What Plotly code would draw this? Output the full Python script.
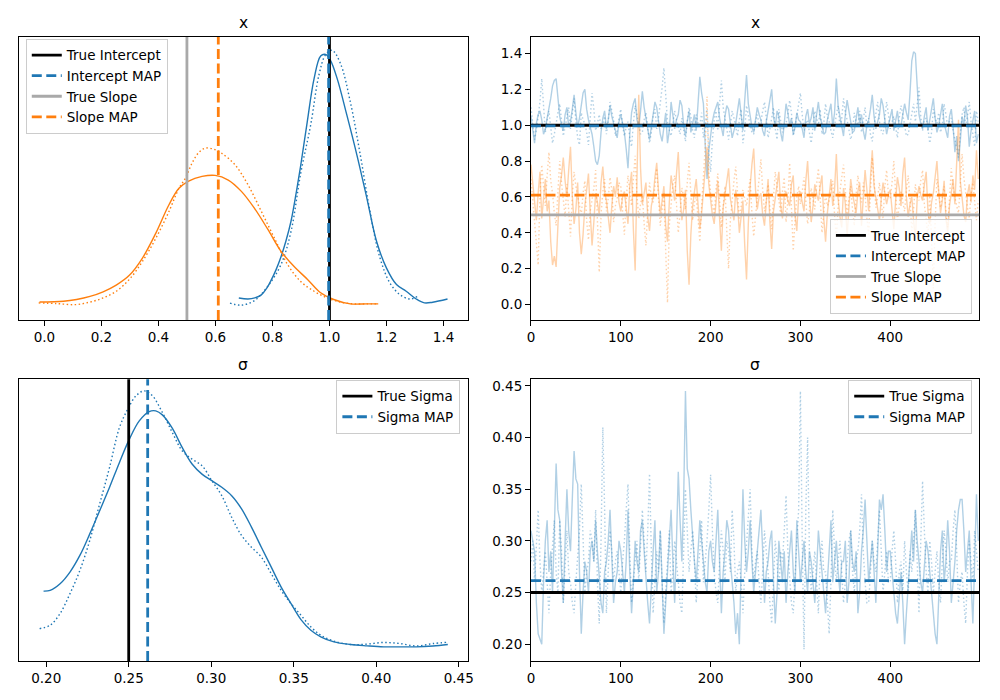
import numpy as np
import plotly.graph_objects as go

# ---------------- data ----------------
BLUE = "#1f77b4"
ORANGE = "#ff7f0e"
GRAY = "#a9a9a9"

TRUE_INTERCEPT = 1.0
INTERCEPT_MAP = 0.997
TRUE_SLOPE = 0.5
SLOPE_MAP = 0.61
TRUE_SIGMA = 0.25
SIGMA_MAP = 0.2615

# KDE curves (posterior densities)
slope_c0_x = [-0.017, 0.067, 0.113, 0.16, 0.206, 0.252, 0.298, 0.344, 0.391, 0.437, 0.472, 0.506, 0.553,
              0.599, 0.645, 0.691, 0.737, 0.784, 0.830, 0.876, 0.923, 0.969, 1.015, 1.073, 1.13, 1.171]
slope_c0_d = [0.10, 0.115, 0.15, 0.21, 0.30, 0.43, 0.62, 0.955, 1.44, 1.99, 2.31, 2.45, 2.54,
              2.56, 2.47, 2.25, 1.92, 1.51, 1.085, 0.79, 0.54, 0.28, 0.15, 0.065, 0.065, 0.065]
slope_c1_x = [-0.02, 0.044, 0.108, 0.16, 0.206, 0.252, 0.298, 0.344, 0.391, 0.437, 0.472, 0.495, 0.518, 0.541,
              0.564, 0.593, 0.622, 0.668, 0.714, 0.761, 0.807, 0.853, 0.899, 0.946, 0.992, 1.038, 1.084, 1.13, 1.165]
slope_c1_d = [0.084, 0.07, 0.05, 0.10, 0.18, 0.31, 0.54, 0.89, 1.34, 1.86, 2.31, 2.51, 2.80, 3.00,
              3.09, 3.07, 2.99, 2.77, 2.38, 1.86, 1.34, 0.83, 0.50, 0.31, 0.18, 0.10, 0.065, 0.065, 0.065]
icpt_c0_x = [0.682, 0.714, 0.738, 0.761, 0.78, 0.795, 0.812, 0.83, 0.848, 0.865, 0.882, 0.899, 0.922, 0.946,
             0.969, 0.986, 1.003, 1.027, 1.061, 1.096, 1.131, 1.165, 1.2, 1.235, 1.269, 1.304, 1.333, 1.362, 1.414]
icpt_c0_d = [0.18, 0.16, 0.18, 0.24, 0.37, 0.52, 0.72, 0.98, 1.30, 1.67, 2.18, 2.75, 3.60, 4.44,
             4.88, 4.91, 4.80, 4.44, 3.73, 2.96, 2.12, 1.28, 0.76, 0.44, 0.31, 0.16, 0.084, 0.097, 0.16]
icpt_c1_x = [0.651, 0.691, 0.737, 0.784, 0.83, 0.865, 0.899, 0.934, 0.963, 0.986, 1.009, 1.038, 1.073,
             1.108, 1.142, 1.177, 1.212, 1.246, 1.281, 1.31]
icpt_c1_d = [0.08, 0.04, 0.13, 0.41, 0.83, 1.47, 2.60, 3.54, 4.51, 4.90, 4.99, 4.74, 3.99,
             2.96, 1.86, 0.96, 0.47, 0.25, 0.16, 0.21]

sigma_c0_x = [0.1984, 0.2024, 0.2084, 0.2144, 0.2204, 0.2264, 0.2324, 0.2384, 0.2444, 0.2504, 0.2564, 0.2624,
              0.2664, 0.2704, 0.2764, 0.2824, 0.2884, 0.2944, 0.3004, 0.3064, 0.3124, 0.3184, 0.3244, 0.3304,
              0.3364, 0.3424, 0.3484, 0.3544, 0.3604, 0.3664, 0.3744, 0.3844, 0.3944, 0.4044, 0.4144, 0.4244,
              0.4344, 0.4434]
sigma_c0_d = [3.05, 3.09, 3.45, 4.09, 5.0, 6.18, 7.45, 8.73, 10.09, 11.36, 12.36, 12.87,
              12.91, 12.69, 11.96, 10.91, 10.0, 9.45, 9.09, 8.73, 8.27, 7.55, 6.55, 5.45,
              4.36, 3.27, 2.36, 1.49, 0.91, 0.55, 0.27, 0.13, 0.055, 0.0, 0.0, 0.0,
              0.05, 0.13]
sigma_c1_x = [0.196, 0.2024, 0.2084, 0.2144, 0.2204, 0.2264, 0.2324, 0.2384, 0.2444, 0.2494, 0.2544, 0.2594,
              0.2644, 0.2704, 0.2764, 0.2824, 0.2884, 0.2944, 0.3004, 0.3064, 0.3124, 0.3184, 0.3244, 0.3304,
              0.3364, 0.3424, 0.3484, 0.3544, 0.3604, 0.3664, 0.3744, 0.3844, 0.3944, 0.4044, 0.4144, 0.4244,
              0.4344, 0.4434]
sigma_c1_d = [1.0, 1.18, 1.82, 2.91, 4.18, 5.82, 7.82, 9.82, 12.0, 13.0, 13.73, 14.0,
              13.73, 12.82, 11.73, 10.73, 10.27, 9.91, 9.09, 8.27, 7.09, 6.09, 5.45, 4.91,
              4.0, 3.09, 2.36, 1.73, 1.09, 0.64, 0.31, 0.13, 0.15, 0.24, 0.18, 0.05,
              0.18, 0.25]

# MCMC traces (every 2nd draw), one row = 100 draws
DRAW_STEP = 2
intercept_c0 = [
    1.05, 0.97, 0.90, 1.01, 1.06, 1.08, 1.03, 0.95, 0.98, 1.04, 1.09, 1.15, 1.22, 1.25, 1.26, 1.14, 1.05, 1.00, 0.97, 1.06, 1.10, 0.99, 1.02, 1.09, 1.17,
    1.07, 0.99, 1.04, 1.12, 1.18, 1.20, 1.09, 1.03, 0.99, 0.95, 0.88, 0.80, 0.78, 0.83, 0.96, 1.04, 1.08, 0.98, 1.03, 1.11, 1.05, 1.00, 0.97, 0.93, 1.02,
    1.06, 1.01, 0.96, 0.87, 0.76, 0.95, 1.07, 1.12, 1.15, 1.03, 0.99, 1.08, 1.19, 1.10, 1.05, 0.98, 0.92, 0.99, 1.04, 1.13, 1.10, 1.02, 0.95, 0.91, 1.01,
    1.07, 0.90, 0.97, 1.13, 1.05, 0.98, 1.03, 1.06, 1.14, 1.11, 1.00, 0.94, 1.02, 1.08, 0.96, 1.02, 1.06, 0.97, 1.12, 1.27, 1.18, 1.12, 0.89, 0.70, 0.86,
    0.96, 1.02, 1.07, 1.10, 1.13, 1.04, 0.98, 0.94, 1.05, 1.11, 1.09, 1.00, 0.93, 0.97, 1.01, 1.08, 1.15, 1.06, 0.97, 1.14, 1.28, 1.12, 1.04, 0.99, 0.96,
    1.03, 1.10, 1.06, 1.03, 0.97, 0.94, 1.02, 1.08, 1.14, 1.20, 1.05, 0.99, 1.08, 1.05, 0.96, 0.91, 1.01, 1.12, 1.07, 1.00, 1.04, 0.95, 0.99, 1.07, 1.03,
    1.02, 0.98, 0.93, 1.05, 1.09, 1.01, 1.04, 1.10, 0.97, 1.06, 1.13, 1.04, 1.01, 0.95, 0.96, 1.03, 1.08, 1.12, 0.99, 1.07, 1.26, 1.11, 1.05, 0.99, 0.94,
    1.06, 1.14, 1.08, 1.02, 0.96, 0.97, 1.04, 1.10, 1.01, 1.06, 0.97, 0.92, 1.00, 1.03, 1.09, 1.17, 1.05, 0.98, 1.02, 1.06, 1.15, 1.11, 1.03, 0.95, 1.00,
    1.04, 1.09, 0.97, 1.02, 1.08, 0.99, 1.00, 1.06, 1.12, 1.07, 1.03, 1.18, 1.36, 1.41, 1.40, 1.22, 1.06, 1.01, 0.98, 1.05, 1.10, 0.97, 1.03, 1.09, 1.15,
    1.04, 0.96, 1.00, 1.07, 1.12, 1.01, 0.97, 0.93, 1.05, 1.09, 0.99, 0.85, 0.94, 0.80, 0.91, 1.05, 1.00, 1.11, 1.04, 0.88, 0.97, 1.02, 1.08, 0.90, 0.95]
intercept_c1 = [
    1.10, 1.01, 0.92, 0.97, 1.04, 1.13, 1.26, 1.08, 0.96, 1.03, 1.08, 0.99, 0.90, 0.95, 1.02, 1.07, 1.12, 1.04, 0.94, 0.99, 1.05, 1.10, 0.98, 1.06, 1.15,
    1.02, 0.93, 0.89, 1.07, 1.03, 1.01, 0.96, 0.89, 1.04, 1.18, 1.09, 0.97, 1.01, 1.06, 0.98, 1.00, 1.05, 0.95, 1.02, 1.13, 1.08, 1.03, 0.94, 0.97, 1.04,
    1.09, 1.00, 0.94, 0.99, 1.02, 0.93, 0.88, 1.01, 1.11, 1.06, 1.00, 0.95, 0.96, 1.03, 1.07, 0.98, 0.90, 0.96, 1.05, 1.09, 0.98, 1.04, 1.12, 1.21, 1.32,
    1.14, 1.02, 0.97, 0.94, 1.01, 1.08, 1.03, 0.99, 0.95, 1.04, 0.98, 0.91, 1.02, 1.10, 1.05, 0.97, 0.93, 1.06, 1.01, 1.00, 1.07, 0.93, 0.99, 1.09, 0.85,
    0.74, 0.92, 1.03, 1.08, 0.97, 1.12, 1.25, 1.10, 1.05, 0.98, 0.92, 1.01, 1.08, 1.04, 0.99, 0.94, 1.03, 1.09, 0.90, 0.97, 1.11, 1.05, 1.00, 0.96, 0.95,
    1.02, 1.06, 1.00, 1.02, 1.08, 1.13, 1.04, 0.93, 0.98, 1.04, 1.10, 0.98, 0.92, 1.09, 1.03, 0.96, 1.00, 1.01, 1.06, 1.14, 1.07, 0.94, 0.99, 1.05, 1.11,
    1.18, 1.06, 0.97, 1.01, 1.03, 0.96, 0.90, 0.99, 1.08, 1.04, 1.00, 1.09, 0.95, 1.01, 1.12, 1.05, 1.02, 0.97, 0.93, 1.00, 1.06, 1.11, 0.99, 1.04, 1.15,
    1.07, 1.03, 0.98, 0.92, 0.96, 1.07, 1.02, 1.00, 1.08, 0.96, 1.03, 1.10, 0.99, 1.04, 0.95, 0.91, 1.00, 1.08, 1.13, 1.02, 0.97, 0.95, 1.05, 1.13, 1.06,
    0.98, 1.02, 1.05, 0.99, 0.93, 1.04, 1.11, 1.06, 1.00, 0.94, 0.95, 1.01, 1.07, 1.12, 1.02, 1.10, 1.21, 1.05, 0.97, 1.03, 1.04, 0.98, 0.90, 0.96, 1.09,
    1.04, 1.01, 1.07, 0.96, 1.00, 1.12, 1.06, 0.99, 1.03, 1.04, 0.97, 0.92, 0.87, 0.82, 0.95, 1.06, 1.10, 1.00, 1.05, 1.13, 1.02, 0.95, 0.88, 1.08, 1.02]
slope_c0 = [
    0.78, 0.66, 0.55, 0.47, 0.62, 0.74, 0.48, 0.59, 0.70, 0.52, 0.58, 0.35, 0.22, 0.27, 0.21, 0.44, 0.65, 0.72, 0.82, 0.69, 0.60, 0.75, 0.88, 0.61, 0.45,
    0.53, 0.68, 0.40, 0.28, 0.39, 0.55, 0.64, 0.73, 0.51, 0.33, 0.46, 0.62, 0.57, 0.50, 0.68, 0.77, 0.63, 0.58, 0.49, 0.40, 0.55, 0.66, 0.60, 0.71, 0.57,
    0.52, 0.60, 0.63, 0.54, 0.45, 0.66, 0.74, 0.42, 0.19, 0.70, 1.17, 0.76, 0.56, 0.62, 0.68, 0.49, 0.41, 0.55, 0.60, 0.71, 0.79, 0.63, 0.50, 0.58, 0.66,
    0.44, 0.35, 0.57, 0.72, 0.65, 0.58, 0.73, 0.85, 0.61, 0.47, 0.53, 0.64, 0.30, 0.11, 0.39, 0.55, 0.63, 0.70, 0.56, 0.42, 0.51, 0.62, 0.77, 0.88, 0.67,
    0.57, 0.50, 0.45, 0.60, 0.69, 0.48, 0.30, 0.54, 0.61, 0.68, 0.76, 0.59, 0.52, 0.47, 0.64, 0.56, 0.40, 0.51, 0.58, 0.33, 0.14, 0.45, 0.66, 0.78, 0.87,
    0.64, 0.53, 0.60, 0.62, 0.50, 0.44, 0.57, 0.70, 0.46, 0.31, 0.52, 0.59, 0.66, 0.74, 0.55, 0.48, 0.61, 0.63, 0.58, 0.55, 0.67, 0.72, 0.50, 0.41, 0.60,
    0.63, 0.57, 0.52, 0.69, 0.80, 0.61, 0.46, 0.55, 0.67, 0.62, 0.58, 0.66, 0.72, 0.48, 0.35, 0.51, 0.61, 0.70, 0.55, 0.64, 0.84, 0.59, 0.49, 0.43, 0.65,
    0.56, 0.38, 0.54, 0.70, 0.62, 0.57, 0.51, 0.63, 0.68, 0.44, 0.58, 0.75, 0.64, 0.52, 0.71, 0.86, 0.66, 0.60, 0.53, 0.47, 0.59, 0.68, 0.62, 0.56, 0.61,
    0.64, 0.53, 0.42, 0.58, 0.71, 0.65, 0.55, 0.73, 0.82, 0.60, 0.49, 0.56, 0.60, 0.47, 0.36, 0.59, 0.66, 0.61, 0.58, 0.67, 0.74, 0.52, 0.45, 0.57, 0.62,
    0.71, 0.80, 0.63, 0.51, 0.58, 0.69, 0.48, 0.40, 0.55, 0.63, 0.70, 0.56, 0.78, 1.03, 0.69, 0.58, 0.50, 0.46, 0.61, 0.67, 0.57, 0.72, 0.64, 0.86, 0.70]
slope_c1 = [
    0.70, 0.58, 0.49, 0.35, 0.22, 0.61, 0.78, 0.66, 0.55, 0.72, 0.85, 0.69, 0.62, 0.51, 0.44, 0.63, 0.80, 0.68, 0.57, 0.49, 0.67, 0.54, 0.38, 0.60, 0.74,
    0.66, 0.61, 0.56, 0.50, 0.62, 0.69, 0.47, 0.36, 0.52, 0.58, 0.65, 0.75, 0.43, 0.18, 0.50, 0.63, 0.70, 0.52, 0.59, 0.71, 0.64, 0.46, 0.55, 0.59, 0.68,
    0.66, 0.52, 0.39, 0.58, 0.72, 0.63, 0.55, 0.70, 0.83, 0.61, 0.48, 0.56, 0.61, 0.45, 0.33, 0.52, 0.68, 0.60, 0.57, 0.66, 0.76, 0.59, 0.44, 0.53, 0.62,
    0.30, 0.01, 0.44, 0.58, 0.67, 0.72, 0.55, 0.40, 0.51, 0.65, 0.60, 0.53, 0.68, 0.79, 0.62, 0.47, 0.57, 0.60, 0.48, 0.35, 0.55, 0.70, 0.88, 1.16, 0.74,
    0.62, 0.56, 0.50, 0.64, 0.73, 0.58, 0.43, 0.55, 0.66, 0.41, 0.20, 0.47, 0.59, 0.69, 0.77, 0.62, 0.48, 0.55, 0.64, 0.59, 0.55, 0.63, 0.70, 0.51, 0.38,
    0.49, 0.61, 0.72, 0.81, 0.64, 0.52, 0.58, 0.67, 0.54, 0.42, 0.60, 0.74, 0.66, 0.57, 0.50, 0.63, 0.71, 0.46, 0.58, 0.79, 0.55, 0.30, 0.47, 0.60, 0.66,
    0.56, 0.63, 0.71, 0.58, 0.45, 0.52, 0.65, 0.59, 0.53, 0.67, 0.76, 0.60, 0.40, 0.51, 0.62, 0.55, 0.58, 0.64, 0.69, 0.50, 0.37, 0.55, 0.64, 0.71, 0.78,
    0.62, 0.50, 0.59, 0.66, 0.53, 0.44, 0.61, 0.72, 0.64, 0.57, 0.68, 0.61, 0.48, 0.39, 0.63, 0.82, 0.70, 0.54, 0.60, 0.68, 0.57, 0.48, 0.66, 0.75, 0.61,
    0.59, 0.68, 0.80, 0.62, 0.47, 0.55, 0.63, 0.57, 0.52, 0.64, 0.72, 0.58, 0.41, 0.53, 0.67, 0.60, 0.58, 0.69, 0.75, 0.56, 0.45, 0.38, 0.62, 0.35, 0.09,
    0.46, 0.70, 0.63, 0.54, 0.60, 0.66, 0.52, 0.43, 0.59, 0.76, 0.65, 0.59, 0.55, 0.51, 0.67, 0.84, 0.71, 0.61, 0.54, 0.48, 0.62, 0.68, 0.56, 0.47, 0.58]
sigma_c0 = [
    0.31, 0.30, 0.29, 0.24, 0.21, 0.205, 0.20, 0.26, 0.30, 0.32, 0.27, 0.29, 0.25, 0.31, 0.375, 0.33, 0.32, 0.27, 0.24, 0.30, 0.35, 0.31, 0.29, 0.34, 0.387,
    0.36, 0.355, 0.27, 0.21, 0.25, 0.28, 0.27, 0.25, 0.29, 0.30, 0.28, 0.32, 0.29, 0.26, 0.24, 0.23, 0.27, 0.28, 0.30, 0.33, 0.28, 0.24, 0.26, 0.27, 0.30,
    0.29, 0.27, 0.25, 0.28, 0.33, 0.27, 0.23, 0.26, 0.30, 0.28, 0.27, 0.31, 0.32, 0.29, 0.26, 0.24, 0.22, 0.26, 0.29, 0.32, 0.25, 0.27, 0.31, 0.26, 0.21,
    0.24, 0.27, 0.30, 0.33, 0.28, 0.24, 0.30, 0.367, 0.32, 0.28, 0.34, 0.445, 0.37, 0.36, 0.33, 0.30, 0.28, 0.26, 0.29, 0.32, 0.30, 0.28, 0.26, 0.25, 0.29,
    0.30, 0.28, 0.27, 0.30, 0.33, 0.28, 0.23, 0.27, 0.29, 0.32, 0.31, 0.28, 0.26, 0.24, 0.21, 0.23, 0.20, 0.28, 0.35, 0.30, 0.27, 0.29, 0.32, 0.28, 0.25,
    0.27, 0.29, 0.31, 0.33, 0.29, 0.24, 0.27, 0.28, 0.30, 0.31, 0.26, 0.22, 0.25, 0.30, 0.28, 0.26, 0.29, 0.24, 0.27, 0.29, 0.31, 0.27, 0.25, 0.32, 0.29,
    0.26, 0.28, 0.30, 0.27, 0.25, 0.29, 0.28, 0.26, 0.24, 0.27, 0.31, 0.29, 0.27, 0.25, 0.23, 0.26, 0.29, 0.32, 0.26, 0.28, 0.30, 0.27, 0.25, 0.28, 0.28,
    0.30, 0.24, 0.26, 0.31, 0.28, 0.27, 0.29, 0.23, 0.25, 0.29, 0.31, 0.34, 0.30, 0.26, 0.28, 0.30, 0.27, 0.24, 0.29, 0.34, 0.33, 0.345, 0.31, 0.27, 0.29,
    0.29, 0.27, 0.25, 0.23, 0.22, 0.25, 0.27, 0.24, 0.20, 0.23, 0.26, 0.29, 0.31, 0.28, 0.33, 0.30, 0.28, 0.26, 0.25, 0.28, 0.30, 0.29, 0.27, 0.25, 0.23,
    0.21, 0.20, 0.25, 0.29, 0.31, 0.26, 0.28, 0.32, 0.29, 0.24, 0.26, 0.28, 0.31, 0.33, 0.34, 0.34, 0.31, 0.27, 0.29, 0.31, 0.26, 0.22, 0.28, 0.345, 0.30]
sigma_c1 = [
    0.28, 0.30, 0.26, 0.29, 0.33, 0.28, 0.25, 0.27, 0.29, 0.26, 0.23, 0.27, 0.30, 0.32, 0.27, 0.25, 0.32, 0.29, 0.24, 0.28, 0.31, 0.27, 0.26, 0.24, 0.23,
    0.26, 0.29, 0.31, 0.355, 0.30, 0.25, 0.27, 0.28, 0.31, 0.30, 0.28, 0.33, 0.26, 0.22, 0.30, 0.41, 0.33, 0.23, 0.27, 0.31, 0.29, 0.26, 0.28, 0.29, 0.27,
    0.25, 0.28, 0.30, 0.33, 0.355, 0.29, 0.24, 0.26, 0.28, 0.30, 0.26, 0.29, 0.33, 0.30, 0.27, 0.31, 0.365, 0.29, 0.23, 0.26, 0.29, 0.27, 0.31, 0.26, 0.22,
    0.25, 0.28, 0.31, 0.25, 0.27, 0.30, 0.28, 0.26, 0.24, 0.23, 0.29, 0.35, 0.31, 0.27, 0.29, 0.31, 0.28, 0.24, 0.27, 0.29, 0.32, 0.26, 0.28, 0.30, 0.33,
    0.364, 0.31, 0.27, 0.25, 0.24, 0.28, 0.31, 0.29, 0.26, 0.30, 0.29, 0.27, 0.33, 0.30, 0.25, 0.27, 0.28, 0.26, 0.23, 0.27, 0.30, 0.32, 0.35, 0.29, 0.26,
    0.28, 0.29, 0.26, 0.24, 0.27, 0.31, 0.29, 0.27, 0.24, 0.22, 0.26, 0.30, 0.28, 0.25, 0.29, 0.28, 0.31, 0.344, 0.29, 0.26, 0.24, 0.23, 0.27, 0.30, 0.33,
    0.445, 0.30, 0.195, 0.33, 0.40, 0.29, 0.25, 0.27, 0.29, 0.26, 0.23, 0.28, 0.30, 0.27, 0.27, 0.24, 0.21, 0.26, 0.33, 0.29, 0.26, 0.28, 0.30, 0.27, 0.24,
    0.26, 0.28, 0.30, 0.31, 0.27, 0.25, 0.28, 0.29, 0.31, 0.345, 0.29, 0.26, 0.24, 0.24, 0.27, 0.30, 0.28, 0.27, 0.30, 0.33, 0.29, 0.25, 0.27, 0.29, 0.26,
    0.26, 0.29, 0.31, 0.28, 0.24, 0.27, 0.28, 0.25, 0.30, 0.27, 0.25, 0.29, 0.27, 0.30, 0.33, 0.28, 0.23, 0.30, 0.358, 0.31, 0.27, 0.25, 0.30, 0.28, 0.25,
    0.27, 0.29, 0.26, 0.24, 0.28, 0.31, 0.29, 0.26, 0.28, 0.28, 0.31, 0.33, 0.29, 0.24, 0.26, 0.27, 0.24, 0.22, 0.27, 0.30, 0.28, 0.26, 0.31, 0.29, 0.27]


def draws_for(series):
    return np.arange(len(series)) * DRAW_STEP

# ---------------- figure ----------------
FONT = "DejaVu Sans"
fig = go.Figure()

def rgba(hexc, a):
    h = hexc.lstrip("#")
    return "rgba(%d,%d,%d,%s)" % (int(h[0:2], 16), int(h[2:4], 16), int(h[4:6], 16), a)

KDE_DOT = "1.5px,2.5px"
TR_DOT = "1.5px,2.5px"
MAP_DASH = "10px,4.5px"

def line(x, y, ax, color, width, dash="solid", shape="linear"):
    fig.add_trace(go.Scatter(x=x, y=y, mode="lines", xaxis="x" + ax, yaxis="y" + ax,
                             line=dict(color=color, width=width, dash=dash, shape=shape),
                             showlegend=False, hoverinfo="skip"))

# KDE top-left
line(icpt_c0_x, icpt_c0_d, "", BLUE, 1.4, shape="spline")
line(icpt_c1_x, icpt_c1_d, "", BLUE, 1.4, KDE_DOT, shape="spline")
line(slope_c0_x, slope_c0_d, "", ORANGE, 1.4, shape="spline")
line(slope_c1_x, slope_c1_d, "", ORANGE, 1.4, KDE_DOT, shape="spline")

# traces top-right
line(draws_for(intercept_c0), intercept_c0, "2", rgba(BLUE, 0.35), 1.4)
line(draws_for(intercept_c1), intercept_c1, "2", rgba(BLUE, 0.35), 1.4, TR_DOT)
line(draws_for(slope_c0), slope_c0, "2", rgba(ORANGE, 0.35), 1.4)
line(draws_for(slope_c1), slope_c1, "2", rgba(ORANGE, 0.35), 1.4, TR_DOT)

# KDE bottom-left
line(sigma_c0_x, sigma_c0_d, "3", BLUE, 1.4, shape="spline")
line(sigma_c1_x, sigma_c1_d, "3", BLUE, 1.4, KDE_DOT, shape="spline")

# traces bottom-right
line(draws_for(sigma_c0), sigma_c0, "4", rgba(BLUE, 0.35), 1.4)
line(draws_for(sigma_c1), sigma_c1, "4", rgba(BLUE, 0.35), 1.4, TR_DOT)

REF_W = 2.8

def vref(v, ax, color, dash="solid"):
    fig.add_shape(type="line", xref="x" + ax, yref=("y" + ax) + " domain", x0=v, x1=v, y0=0, y1=1,
                  line=dict(color=color, width=REF_W, dash=dash), layer="above")

def href(v, ax, color, dash="solid"):
    fig.add_shape(type="line", yref="y" + ax, xref=("x" + ax) + " domain", y0=v, y1=v, x0=0, x1=1,
                  line=dict(color=color, width=REF_W, dash=dash), layer="above")

vref(TRUE_INTERCEPT, "", "black")
vref(INTERCEPT_MAP, "", BLUE, MAP_DASH)
vref(TRUE_SLOPE, "", GRAY)
vref(SLOPE_MAP, "", ORANGE, MAP_DASH)
href(TRUE_INTERCEPT, "2", "black")
href(INTERCEPT_MAP, "2", BLUE, MAP_DASH)
href(TRUE_SLOPE, "2", GRAY)
href(SLOPE_MAP, "2", ORANGE, MAP_DASH)
vref(TRUE_SIGMA, "3", "black")
vref(SIGMA_MAP, "3", BLUE, MAP_DASH)
href(TRUE_SIGMA, "4", "black")
href(SIGMA_MAP, "4", BLUE, MAP_DASH)

def leg(name, color, dash, legend, ax):
    fig.add_trace(go.Scatter(x=[None], y=[None], mode="lines", name=name, legend=legend,
                             xaxis="x" + ax, yaxis="y" + ax,
                             line=dict(color=color, width=REF_W, dash=dash)))

for lg, ax in (("legend", ""), ("legend2", "2")):
    leg("True Intercept", "black", "solid", lg, ax)
    leg("Intercept MAP", BLUE, MAP_DASH, lg, ax)
    leg("True Slope", GRAY, "solid", lg, ax)
    leg("Slope MAP", ORANGE, MAP_DASH, lg, ax)
for lg, ax in (("legend3", "3"), ("legend4", "4")):
    leg("True Sigma", "black", "solid", lg, ax)
    leg("Sigma MAP", BLUE, MAP_DASH, lg, ax)

# ---------------- layout ----------------
W, H = 1000, 700
LX = [15.3 / W, 468.3 / W]
RX = [532.3 / W, 985.0 / W]
TY = [1 - 319.0 / H, 1 - 35.0 / H]
BY = [1 - 661.0 / H, 1 - 378.3 / H]

tickfont = dict(family=FONT, size=13.5, color="black")
base = dict(showline=True, linecolor="black", linewidth=1, mirror=True, ticks="outside", ticklen=5,
            tickwidth=1, tickcolor="black", showgrid=False, zeroline=False, tickfont=tickfont,
            fixedrange=True)
noy = dict(base, showticklabels=False, ticks="")

legstyle = dict(bgcolor="rgba(255,255,255,0.8)", bordercolor="#cccccc", borderwidth=1,
                font=dict(family=FONT, size=13.5, color="black"), itemwidth=30)

fig.update_layout(
    width=W, height=H, autosize=False, margin=dict(l=0, r=0, t=0, b=0),
    plot_bgcolor="white", paper_bgcolor="white",
    font=dict(family=FONT, color="black"),
    xaxis=dict(base, domain=LX, range=[-0.0885, 1.4845], tickformat=".1f", dtick=0.2, tick0=0, anchor="y"),
    yaxis=dict(noy, domain=TY, range=[-0.25, 5.25], anchor="x"),
    xaxis2=dict(base, domain=RX, range=[0, 499], dtick=100, tick0=0, anchor="y2"),
    yaxis2=dict(base, domain=TY, range=[-0.087, 1.493], dtick=0.2, tick0=0, tickformat=".1f", anchor="x2"),
    xaxis3=dict(base, domain=LX, range=[0.1836, 0.4554], dtick=0.05, tick0=0, tickformat=".2f", anchor="y3"),
    yaxis3=dict(noy, domain=BY, range=[-0.78, 14.64], anchor="x3"),
    xaxis4=dict(base, domain=RX, range=[0, 499], dtick=100, tick0=0, anchor="y4"),
    yaxis4=dict(base, domain=BY, range=[0.1836, 0.4565], dtick=0.05, tick0=0, tickformat=".2f", anchor="x4"),
    legend=dict(legstyle, x=22 / W, y=1 - 37 / H, xanchor="left", yanchor="top"),
    legend2=dict(legstyle, x=977.7 / W, y=1 - 313 / H, xanchor="right", yanchor="bottom"),
    legend3=dict(legstyle, x=461 / W, y=1 - 379 / H, xanchor="right", yanchor="top"),
    legend4=dict(legstyle, x=978 / W, y=1 - 379 / H, xanchor="right", yanchor="top"),
    showlegend=True,
)

for txt, xd, yd in (("x", LX, TY), ("x", RX, TY), ("σ", LX, BY), ("σ", RX, BY)):
    fig.add_annotation(text=txt, x=(xd[0] + xd[1]) / 2, y=yd[1], xref="paper", yref="paper",
                       xanchor="center", yanchor="bottom", yshift=3, showarrow=False,
                       font=dict(family=FONT, size=15.5, color="black"))

fig.write_html("out.html")
